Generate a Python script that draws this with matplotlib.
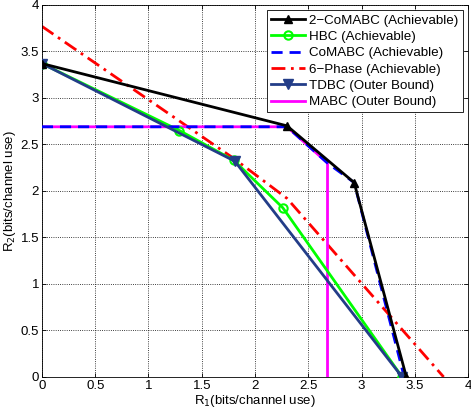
import numpy as np
import matplotlib
matplotlib.use("Agg")
from matplotlib import pyplot as plt

plt.rcParams['font.family'] = ['Liberation Sans', 'DejaVu Sans']
plt.rcParams['font.size'] = 9.5

# rate region corner points (R1, R2)
comabc2_r1 = [0, 2.30, 2.93, 3.42]
comabc2_r2 = [3.37, 2.70, 2.09, 0]

hbc_r1 = [0, 1.29, 1.80, 2.26, 3.38]
hbc_r2 = [3.37, 2.65, 2.33, 1.82, 0]

comabc_r1 = [0, 2.30, 2.68, 2.93, 3.40]
comabc_r2 = [2.69, 2.69, 2.30, 2.09, 0]

phase6_r1 = [0, 1.80, 2.30, 3.77]
phase6_r2 = [3.77, 2.35, 1.92, 0]

tdbc_r1 = [0, 1.81, 3.38]
tdbc_r2 = [3.37, 2.32, 0]

mabc_r1 = [0, 2.30, 2.68, 2.68]
mabc_r2 = [2.69, 2.69, 2.30, 0]

fig = plt.figure(figsize=(4.71, 4.12), dpi=100)
ax = fig.add_axes([0.089, 0.085, 0.905, 0.903])

lw = 2
ax.plot(comabc2_r1, comabc2_r2, color='k', lw=lw, marker='^', ms=6,
        label='2\u2212CoMABC (Achievable)', zorder=5)
ax.plot(hbc_r1, hbc_r2, color=(0, 1, 0), lw=lw, marker='o', ms=6, mfc='none',
        mew=1.5, label='HBC (Achievable)', zorder=3)
ax.plot(comabc_r1, comabc_r2, color=(0, 0, 1), lw=lw, ls=(0, (4, 2.5)),
        label='CoMABC (Achievable)', zorder=4)
ax.plot(phase6_r1, phase6_r2, color=(1, 0, 0), lw=lw, ls=(0, (5, 2, 1, 2)),
        label='6\u2212Phase (Achievable)', zorder=2)
ax.plot(tdbc_r1, tdbc_r2, color='#233d88', lw=lw, marker='v', ms=7,
        label='TDBC (Outer Bound)', zorder=4)
ax.plot(mabc_r1, mabc_r2, color=(1, 0, 1), lw=lw,
        label='MABC (Outer Bound)', zorder=2)

ax.set_xlim(0, 4)
ax.set_ylim(0, 4)
ax.set_xticks(np.arange(0, 4.01, 0.5))
ax.set_yticks(np.arange(0, 4.01, 0.5))
ax.set_xticklabels(['0', '0.5', '1', '1.5', '2', '2.5', '3', '3.5', '4'])
ax.set_yticklabels(['0', '0.5', '1', '1.5', '2', '2.5', '3', '3.5', '4'])
ax.tick_params(direction='in', top=True, right=True, length=3, width=0.6, pad=2)
ax.grid(True, color='k', ls=':', lw=0.6)
for s in ax.spines.values():
    s.set_linewidth(0.6)

ax.set_xlabel('R$_1$(bits/channel use)', labelpad=1)
ax.set_ylabel('R$_2$(bits/channel use)', labelpad=2)

leg = ax.legend(loc='upper right', fancybox=False, edgecolor='k', framealpha=1,
                fontsize=9.6, borderpad=0.3, labelspacing=0.3, handlelength=2.6,
                handletextpad=0.3, borderaxespad=0.4)
leg.get_frame().set_linewidth(0.6)

fig.savefig('out.png', dpi=100)
plt.close()
